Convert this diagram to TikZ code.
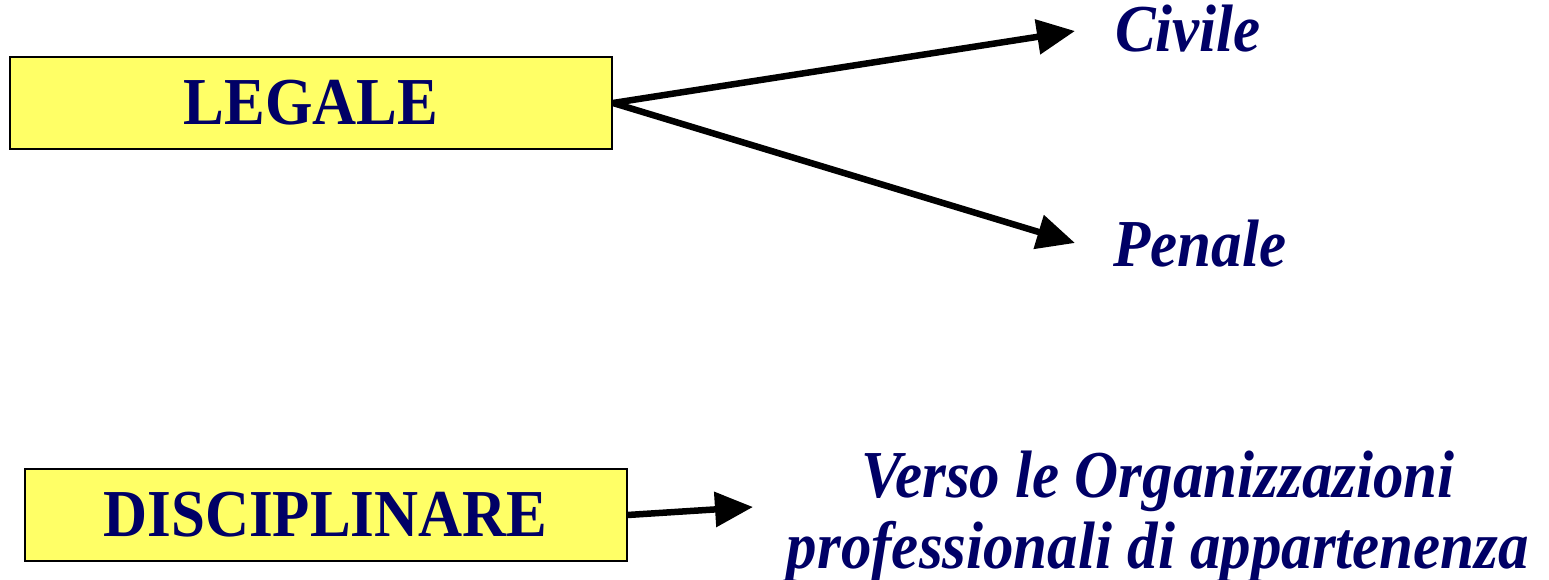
\documentclass[tikz,border=0pt]{standalone}
\usepackage{fontspec}
\setmainfont{Liberation Serif}
\usepackage{graphicx}
\usetikzlibrary{arrows.meta}
\definecolor{boxfill}{HTML}{FFFF66}
\definecolor{navytext}{HTML}{000066}
\newcommand{\tallword}[1]{\scalebox{1}[1.1]{#1}}
\tikzset{
  catbox/.style={draw=black, line width=2pt, fill=boxfill, minimum width=602pt,
    minimum height=92pt, inner sep=0pt, text=navytext,
    font=\fontsize{61}{71}\selectfont\bfseries},
  sublabel/.style={anchor=base, inner sep=0pt, text=navytext, align=center,
    font=\fontsize{61}{71}\selectfont\bfseries\itshape},
  bigarrow/.style={line width=6.5pt, -{Triangle[length=38pt,width=34pt]}}
}
\begin{document}
\begin{tikzpicture}[x=1pt,y=-1pt]
  \useasboundingbox (0,0) rectangle (1549,580);
  % category boxes
  \node[catbox] (legale) at (311,103) {\tallword{LEGALE}};
  \node[catbox] (disc) at (325.5,515) {\tallword{DISCIPLINARE}};
  % outcome labels
  \node[sublabel] (civile) at (1188,52) {\tallword{Civile}};
  \node[sublabel] (penale) at (1200,266) {\tallword{Penale}};
  \node[sublabel] (ordini) at (1158,568)
    {\tallword{Verso le Organizzazioni}\\\tallword{professionali di appartenenza}};
  % arrow tips
  \coordinate (ctip) at (1075,31);
  \coordinate (ptip) at (1075,243);
  \coordinate (dtip) at (753,507);
  \draw[bigarrow] (legale.east) -- (ctip);
  \draw[bigarrow] (legale.east) -- (ptip);
  \draw[bigarrow] (disc.east) -- (dtip);
\end{tikzpicture}
\end{document}
